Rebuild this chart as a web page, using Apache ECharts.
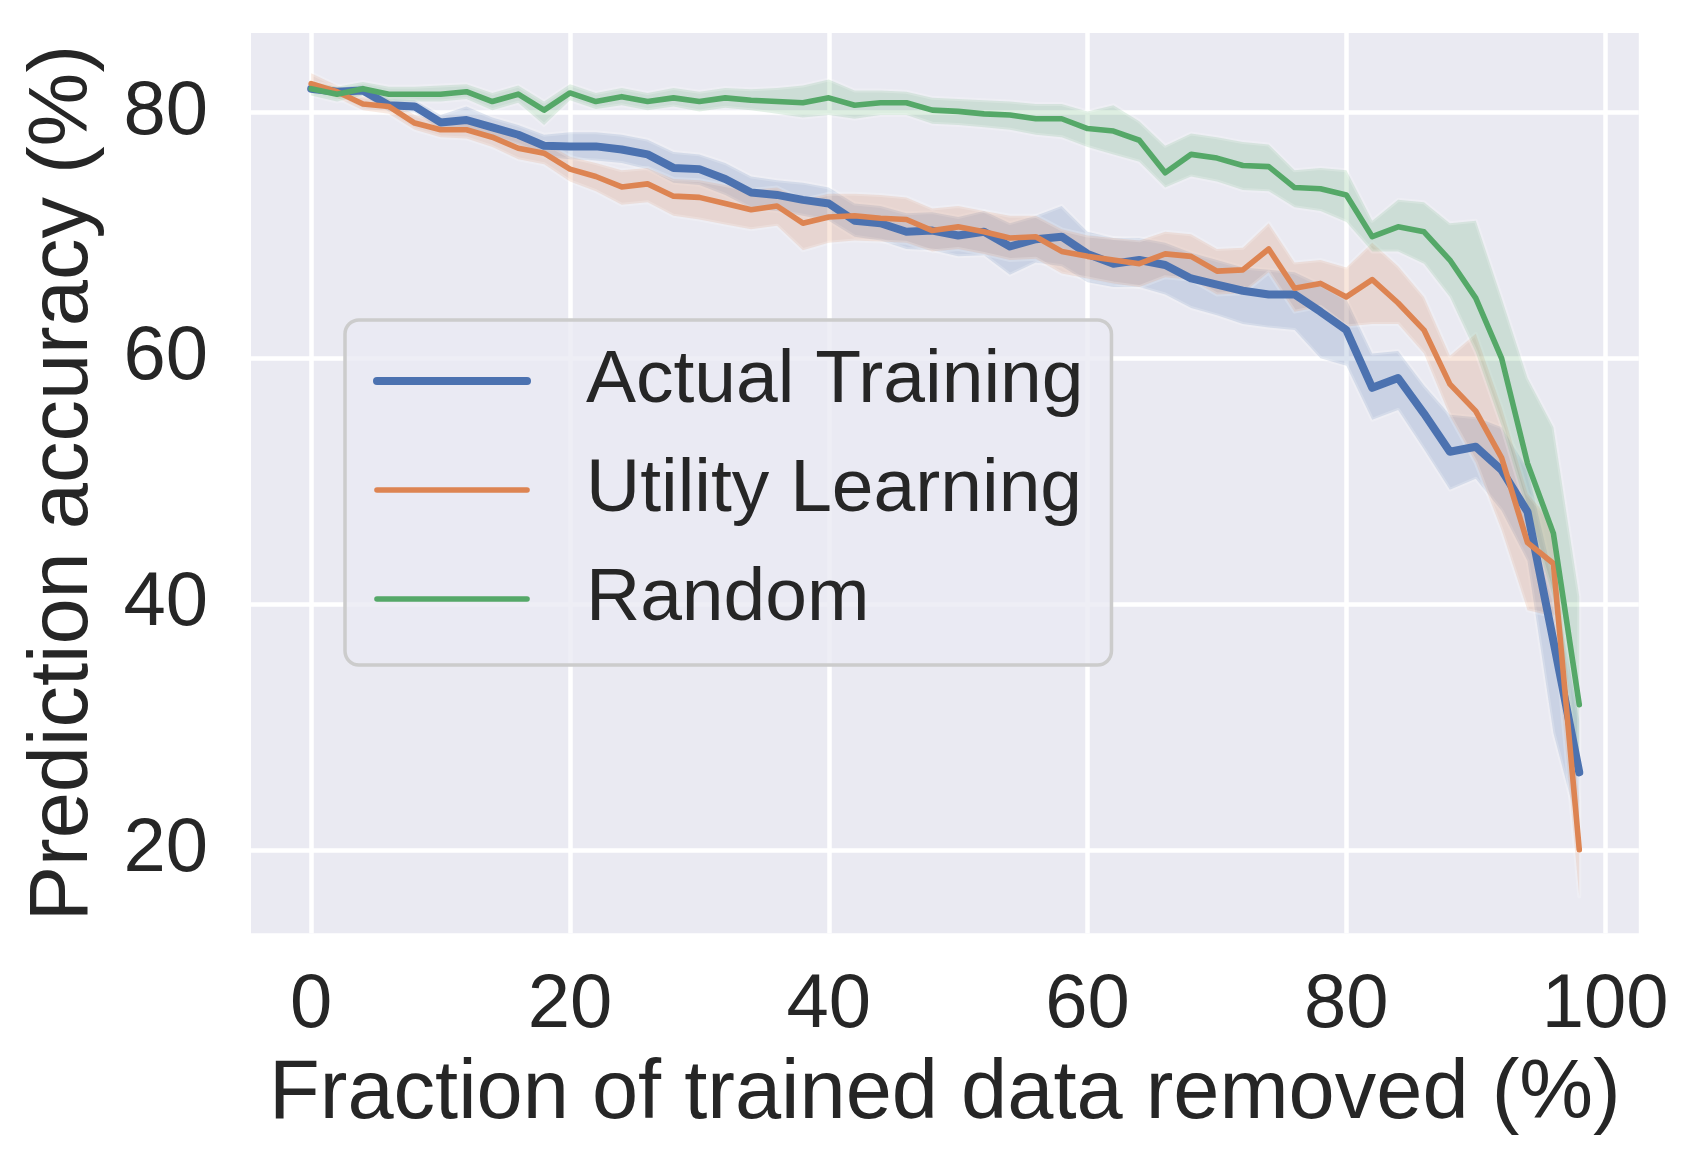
<!DOCTYPE html>
<html>
<head>
<meta charset="utf-8">
<script src="https://cdn.jsdelivr.net/npm/echarts@6/dist/echarts.min.js"></script>
<style>
html,body{margin:0;padding:0;background:#ffffff;}
#chart{width:1697px;height:1169px;}
</style>
</head>
<body>
<div id="chart"></div>
<script>
// ---------------- data ----------------
const xValues = [0,2,4,6,8,10,12,14,16,18,20,22,24,26,28,30,32,34,36,38,40,42,44,46,48,50,52,54,56,58,60,62,64,66,68,70,72,74,76,78,80,82,84,86,88,90,92,94,96,98];

const seriesNames = ['Actual Training', 'Utility Learning', 'Random'];

const actualMean  = [81.95,81.7,81.8,80.6,80.5,79.2,79.4,78.8,78.2,77.3,77.25,77.25,77.0,76.6,75.5,75.4,74.6,73.5,73.3,72.9,72.6,71.2,71.0,70.3,70.4,70.0,70.3,69.1,69.7,69.9,68.5,67.7,68.0,67.6,66.5,66.0,65.5,65.2,65.2,63.8,62.3,57.6,58.4,55.5,52.4,52.8,50.9,47.5,37.0,26.3];
const actualLower = [81.6,81.35,81.4,80.1,80.0,78.6,78.5,78.0,77.4,76.4,76.2,76.1,75.9,75.4,74.3,74.1,73.3,72.2,72.0,71.6,71.2,69.9,69.6,68.9,68.8,68.3,68.4,66.8,67.8,67.5,66.2,65.8,65.8,65.2,64.1,63.5,62.8,62.5,62.3,60.0,59.4,55.0,55.8,52.6,49.3,50.2,47.6,43.5,29.5,21.5];
const actualUpper = [82.3,82.05,82.2,81.1,81.0,79.8,80.5,79.6,79.0,78.2,78.4,78.4,78.2,77.8,76.8,76.6,75.9,74.8,74.5,74.3,73.9,72.6,72.4,71.8,71.9,71.5,72.0,71.0,71.6,72.4,70.3,69.8,69.8,69.4,68.6,68.0,67.4,67.2,67.0,66.0,64.8,60.4,60.6,57.8,55.4,55.2,54.4,51.0,42.0,30.5];

const utilityMean  = [82.36,81.7,80.7,80.5,79.15,78.6,78.6,78.0,77.1,76.7,75.4,74.8,73.95,74.2,73.2,73.1,72.6,72.1,72.4,71.0,71.5,71.6,71.4,71.3,70.4,70.7,70.3,69.8,69.9,68.7,68.3,68.0,67.7,68.5,68.3,67.1,67.2,68.9,65.7,66.1,65.0,66.4,64.5,62.3,57.9,55.7,51.9,45.0,43.3,20.0];
const utilityLower = [81.8,81.2,80.2,79.9,78.6,78.0,77.9,77.2,76.2,75.8,74.4,73.6,72.5,72.7,71.6,71.3,70.9,70.5,70.8,68.8,69.4,69.6,69.5,69.4,68.7,68.9,68.5,68.0,68.1,66.9,66.5,66.1,65.8,66.6,66.4,65.2,65.3,67.0,63.8,64.2,62.6,62.8,62.8,60.4,55.3,51.5,46.0,39.5,39.0,16.2];
const utilityUpper = [83.2,82.2,81.3,81.1,79.8,79.3,79.3,78.8,78.0,77.6,76.4,75.9,75.3,75.5,74.6,74.5,74.1,73.7,73.9,72.9,73.4,73.4,73.3,73.1,72.2,72.4,72.0,71.6,71.6,70.5,70.0,69.8,69.6,70.3,70.1,68.9,69.0,71.0,67.8,68.0,67.4,69.4,67.5,65.0,60.2,62.0,56.0,49.0,46.5,24.0];

const randomMean  = [81.95,81.5,81.95,81.5,81.5,81.5,81.7,80.9,81.5,80.2,81.6,80.9,81.3,80.9,81.2,80.9,81.2,81.0,80.9,80.8,81.2,80.6,80.8,80.8,80.2,80.1,79.9,79.8,79.5,79.5,78.7,78.5,77.75,75.1,76.6,76.3,75.7,75.6,73.9,73.8,73.3,69.9,70.7,70.3,68.0,64.9,60.0,51.45,45.75,31.8];
const randomLower = [81.4,80.9,81.4,80.9,80.9,80.9,81.1,80.2,80.8,79.0,81.0,80.3,80.6,80.2,80.5,80.1,80.4,80.2,79.9,79.6,79.8,79.5,79.8,79.8,79.1,79.0,78.8,78.6,78.2,78.0,77.2,76.6,76.0,73.9,74.8,74.4,73.7,73.6,72.3,72.0,71.1,68.7,68.7,67.7,65.0,60.5,54.5,47.5,40.5,26.0];
const randomUpper = [82.5,82.1,82.5,82.1,82.1,82.2,82.3,81.6,82.2,80.9,82.3,81.6,82.0,81.6,82.0,81.7,82.0,81.9,82.0,82.2,82.7,81.8,81.8,81.7,81.2,81.1,81.0,80.9,80.7,80.7,80.1,80.6,79.3,77.3,78.3,78.0,77.6,77.4,75.3,75.5,75.3,71.2,72.9,72.7,71.0,71.2,64.9,58.4,54.4,40.6];

const xTickValues = [0,20,40,60,80,100];
const yTickValues = [20,40,60,80];

// ---------------- styling ----------------
const colors = ['#4C72B0', '#DD8452', '#55A868'];
const lineWidths = [8, 5.6, 5.6];
const FONT = "'Liberation Sans', Arial, Helvetica, sans-serif";
const TEXT = '#262626';

const means = [actualMean, utilityMean, randomMean];
const lowers = [actualLower, utilityLower, randomLower];
const uppers = [actualUpper, utilityUpper, randomUpper];

function pairs(ys) { return xValues.map((x, i) => [x, ys[i]]); }

const series = [];
// confidence bands drawn as polygons through the axis scales
for (let k = 0; k < 3; k++) {
  const lo = lowers[k], hi = uppers[k], col = colors[k];
  series.push({
    name: 'band' + k, type: 'custom', z: 1, silent: true, clip: true,
    data: [[xValues[0], lo[0]]],
    renderItem: function (params, api) {
      const pts = [];
      for (let i = 0; i < xValues.length; i++) pts.push(api.coord([xValues[i], hi[i]]));
      for (let i = xValues.length - 1; i >= 0; i--) pts.push(api.coord([xValues[i], lo[i]]));
      return {
        type: 'polygon',
        shape: { points: pts },
        style: { fill: col, opacity: 0.2, stroke: '#ffffff', lineWidth: 4, lineJoin: 'round' }
      };
    },
    animation: false
  });
}
// mean lines
for (let k = 0; k < 3; k++) {
  series.push({
    name: seriesNames[k], type: 'line', z: 3,
    data: pairs(means[k]), symbol: 'none', silent: true,
    color: colors[k],
    lineStyle: { color: colors[k], width: lineWidths[k], cap: 'round', join: 'round' },
    animation: false
  });
}

const chart = echarts.init(document.getElementById('chart'), null, { renderer: 'canvas' });
chart.setOption({
  backgroundColor: '#ffffff',
  animation: false,
  textStyle: { fontFamily: FONT },
  grid: {
    left: 251, top: 33, width: 1387.8, height: 900.3,
    show: true, backgroundColor: '#EAEAF2', borderWidth: 0
  },
  legend: {
    data: seriesNames.map((n, k) => ({
      name: n,
      lineStyle: { width: lineWidths[k], color: colors[k], cap: 'round' }
    })),
    orient: 'vertical',
    left: 345, top: 320,
    padding: [23, 28, 28, 28],
    itemWidth: 150, itemHeight: 76, itemGap: 33,
    backgroundColor: 'rgba(234,234,242,0.8)',
    borderColor: '#cccccc', borderWidth: 3.5, borderRadius: 14,
    itemStyle: { opacity: 0 },
    textStyle: { fontSize: 75, color: TEXT, fontFamily: FONT, lineHeight: 76, padding: [0, 0, 0, 54] },
    selectedMode: false
  },
  xAxis: {
    type: 'value', min: -4.65, max: 102.6,
    name: 'Fraction of trained data removed (%)',
    nameLocation: 'middle', nameGap: 120,
    nameTextStyle: { fontSize: 83, color: TEXT, fontFamily: FONT },
    axisLine: { show: false },
    axisTick: { show: false, customValues: xTickValues },
    axisLabel: { customValues: xTickValues, fontSize: 76, color: TEXT, margin: 35, fontFamily: FONT },
    splitLine: { show: true, lineStyle: { color: '#ffffff', width: 4.5 } }
  },
  yAxis: {
    type: 'value', min: 13.2, max: 86.48,
    name: 'Prediction accuracy (%)',
    nameLocation: 'middle', nameGap: 145, nameRotate: 90,
    nameTextStyle: { fontSize: 83, color: TEXT, fontFamily: FONT },
    axisLine: { show: false },
    axisTick: { show: false, customValues: yTickValues },
    axisLabel: { customValues: yTickValues, fontSize: 76, color: TEXT, margin: 43, fontFamily: FONT },
    splitLine: { show: true, lineStyle: { color: '#ffffff', width: 4.5 } }
  },
  series: series
});
</script>
</body>
</html>
